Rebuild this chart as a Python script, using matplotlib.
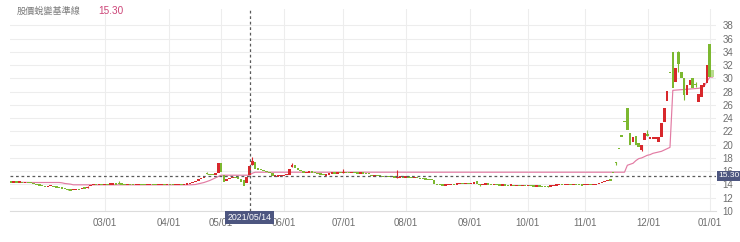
import matplotlib
matplotlib.use("Agg")
import matplotlib.pyplot as plt
from matplotlib.transforms import blended_transform_factory

# ---------------- data ----------------
opens = [
    14.40, 14.35, 14.38, 14.35, 14.35, 14.30, 14.32, 14.28, 14.20, 14.05,
    13.95, 13.85, 13.75, 13.70, 13.78, 13.75, 13.65, 13.58, 13.52, 13.45,
    13.35, 13.20, 13.18, 13.22, 13.28, 13.30, 13.50, 13.55, 13.70, 13.95,
    14.05, 14.02, 14.05, 14.00, 14.05, 14.03, 14.08, 14.10, 14.22, 14.10,
    14.05, 14.03, 14.05, 14.02, 14.00, 14.03, 14.05, 14.02, 14.00, 14.02,
    14.05, 14.03, 14.00, 14.02, 14.05, 14.03, 14.05, 14.02, 14.00, 14.03,
    14.05, 14.02, 14.05, 14.10, 14.20, 14.35, 14.60, 14.85, 14.95, 15.70,
    15.60, 15.50, 15.50, 15.70, 17.20, 15.40, 14.50, 14.90, 15.00, 15.15,
    15.05, 14.90, 14.70, 14.20, 15.40, 16.90, 17.40, 16.40, 16.30, 16.20,
    16.05, 15.85, 15.70, 15.25, 15.25, 15.35, 15.35, 15.45, 15.40, 16.60,
    16.95, 16.55, 16.25, 16.00, 15.80, 15.85, 15.95, 15.85, 15.75, 15.65,
    15.55, 15.35, 15.55, 15.70, 15.75, 15.70, 15.80, 15.75, 15.90, 15.80,
    15.75, 15.80, 15.72, 15.70, 15.75, 15.70, 15.65, 15.50, 15.20, 15.40,
    15.30, 15.25, 15.20, 15.22, 15.15, 15.18, 14.95, 15.10, 15.15, 15.10,
    15.15, 15.10, 15.05, 15.08, 15.00, 14.90, 14.85, 14.80, 14.75, 14.70,
    14.05, 14.00, 13.95, 13.90, 13.95, 14.00, 14.05, 14.02, 14.08, 14.15,
    14.10, 14.20, 14.15, 14.20, 14.50, 14.00, 13.95, 14.05, 14.10, 14.05,
    14.00, 14.02, 13.95, 13.92, 13.95, 13.90, 13.88, 13.92, 13.85, 13.88,
    13.82, 13.85, 13.80, 13.85, 13.80, 13.78, 13.80, 13.75, 13.72, 13.75,
    13.70, 13.80, 13.90, 13.95, 14.00, 13.98, 14.02, 14.05, 14.00, 14.02,
    13.98, 13.95, 13.92, 13.98, 14.02, 13.98, 14.00, 14.10, 14.25, 14.40,
    14.55, 14.70, 15.85, 17.32, 19.50, 21.35, 23.50, 25.60, 21.70, 20.45,
    21.30, 20.20, 19.20, 20.70, 21.60, 21.00, 20.80, 20.90, 20.40, 21.10,
    23.40, 26.60, 30.95, 34.00, 29.40, 34.00, 31.00, 30.00, 27.50, 29.00,
    30.00, 29.10, 26.50, 27.20, 28.75, 29.25, 35.20, 31.20,
]
closes = [
    14.35, 14.38, 14.35, 14.35, 14.30, 14.32, 14.28, 14.25, 14.05, 13.95,
    13.85, 13.75, 13.70, 13.78, 13.85, 13.65, 13.58, 13.52, 13.45, 13.35,
    13.20, 13.18, 13.22, 13.25, 13.25, 13.50, 13.45, 13.60, 13.90, 14.05,
    14.02, 14.05, 14.00, 14.05, 14.03, 14.08, 14.10, 14.05, 14.10, 14.05,
    14.03, 14.05, 14.02, 14.00, 14.03, 14.05, 14.02, 14.00, 14.02, 14.05,
    14.03, 14.00, 14.02, 14.05, 14.03, 14.05, 14.02, 14.00, 14.03, 14.05,
    14.02, 14.05, 14.10, 14.20, 14.35, 14.45, 14.80, 14.95, 15.15, 15.60,
    15.50, 15.48, 15.70, 17.20, 15.85, 14.40, 14.90, 14.95, 15.05, 15.05,
    14.95, 14.40, 13.70, 15.20, 16.80, 17.60, 16.40, 16.25, 16.20, 16.05,
    15.90, 15.70, 15.25, 15.30, 15.35, 15.40, 15.45, 15.50, 16.40, 17.00,
    16.55, 16.20, 16.00, 15.80, 15.85, 15.95, 15.85, 15.75, 15.65, 15.55,
    15.50, 15.50, 15.65, 15.75, 15.70, 15.80, 15.75, 15.90, 15.80, 15.75,
    15.80, 15.72, 15.70, 15.75, 15.70, 15.65, 15.60, 15.30, 15.40, 15.30,
    15.25, 15.20, 15.22, 15.15, 15.18, 15.10, 15.10, 15.15, 15.10, 15.15,
    15.10, 15.05, 15.08, 15.00, 14.90, 14.85, 14.80, 14.75, 14.70, 14.05,
    14.00, 13.95, 13.90, 13.95, 14.00, 14.05, 14.02, 14.08, 14.15, 14.10,
    14.20, 14.15, 14.20, 14.25, 14.00, 13.95, 14.05, 14.10, 14.05, 14.00,
    14.02, 13.95, 13.92, 13.95, 13.90, 13.88, 13.92, 13.85, 13.88, 13.82,
    13.85, 13.80, 13.85, 13.80, 13.78, 13.80, 13.75, 13.72, 13.70, 13.68,
    13.80, 13.90, 13.95, 14.00, 13.98, 14.02, 14.05, 14.00, 14.02, 13.98,
    13.95, 13.90, 13.98, 14.02, 13.98, 14.00, 14.05, 14.25, 14.40, 14.55,
    14.75, 14.65, 15.80, 17.30, 19.45, 21.30, 23.45, 22.20, 19.95, 21.20,
    19.95, 19.70, 19.95, 21.70, 21.30, 21.05, 21.10, 21.10, 21.20, 23.20,
    25.50, 28.10, 30.90, 28.50, 31.50, 32.20, 30.00, 27.50, 29.00, 29.70,
    28.50, 29.00, 27.70, 29.00, 29.25, 32.00, 30.25, 30.25,
]
# visible wicks (trading-day index -> price)
wick_high = {27: 13.75, 38: 14.45, 69: 15.85, 85: 18.10, 99: 17.30, 117: 16.30,
             136: 16.20, 224: 22.20, 235: 34.20, 241: 29.50}
wick_low = {20: 13.10, 27: 13.45, 165: 13.80, 189: 13.62, 213: 16.90,
            222: 19.00, 235: 31.00, 237: 26.80, 241: 28.70}

# 股價蛻變基準線 (baseline) vertices: trading-day index / value
baseline_day = [0, 7, 17, 18, 19, 20, 21, 22, 63, 64, 65, 66, 67, 68, 69, 70,
                71, 72, 73, 74, 84, 85, 86, 216, 217, 219, 220, 221, 222, 223,
                224, 225, 226, 227, 228, 229, 230, 231, 232, 233, 242, 243,
                244, 245, 246, 247]
baseline_val = [14.35, 14.30, 14.30, 14.25, 14.15, 14.10, 14.05, 13.95, 13.95,
                13.97, 14.00, 14.10, 14.20, 14.30, 14.45, 14.60, 14.80, 15.00,
                15.20, 15.40, 15.40, 15.70, 15.85, 15.85, 16.90, 17.20, 17.60,
                17.90, 18.00, 18.20, 18.40, 18.50, 18.70, 18.80, 18.90, 19.00,
                19.20, 19.40, 19.60, 28.20, 28.50, 28.60, 28.80, 29.50, 30.20,
                30.20]

month_labels = ["03/01", "04/01", "05/01", "06/01", "07/01", "08/01",
                "09/01", "10/01", "11/01", "12/01", "01/01"]
month_pos = [33, 55.5, 74, 96, 117, 139, 161.5, 182, 202, 224.3, 246]
y_ticks = [10, 12, 14, 16, 18, 20, 22, 24, 26, 28, 30, 32, 34, 36, 38]

baseline_now = 15.30
cursor_day = 84
cursor_label = "2021/05/14"
legend_name = "股價蛻變基準線"

# ---------------- styling ----------------
UP = "#d8282c"
DOWN = "#7cb830"
LAST = "#b9dc8e"
PINK = "#e27ba3"
GRID = "#ededed"
TXT = "#6f6f6f"
BOX = "#4d5680"
NUM = ["Liberation Sans", "DejaVu Sans"]
CJK = ["Noto Sans CJK TC", "DejaVu Sans"]

fig = plt.figure(figsize=(7.4, 2.42), dpi=100)
fig.patch.set_facecolor("white")
ax = fig.add_axes([10 / 740, 31 / 242, 706 / 740, 202.2 / 242])
ax.set_facecolor("white")

ax.plot(baseline_day, baseline_val, color=PINK, lw=0.85, zorder=2)

n = len(opens)
xs = list(range(n))
for i in xs:
    o, c = opens[i], closes[i]
    col = UP if c >= o else DOWN
    if i == n - 1:
        col = LAST
    lo_b, hi_b = min(o, c), max(o, c)
    hi = wick_high.get(i, hi_b)
    lo = wick_low.get(i, lo_b)
    if hi > hi_b or lo < lo_b:
        ax.vlines(i, lo, hi, color=col, lw=0.8, zorder=3)
    h = max(hi_b - lo_b, 0.2)
    ax.bar(i, h, bottom=(lo_b + hi_b) / 2 - h / 2, width=0.9, color=col,
           linewidth=0, zorder=4)

# reference lines
ax.axhline(baseline_now, color="#5a5a5a", lw=0.9, ls=(0, (2.2, 2.2)), zorder=6)
ax.axvline(cursor_day, color="#5a5a5a", lw=0.9, ls=(0, (2.2, 2.2)), zorder=6)

ax.set_xlim(-0.3, 248.2)
ax.set_ylim(10, 40.5)
ax.set_xticks(month_pos)
ax.set_xticklabels(month_labels, family=NUM, fontsize=7, color=TXT)
ax.set_yticks(y_ticks)
ax.set_yticklabels([str(v) for v in y_ticks], family=NUM, fontsize=7, color=TXT)
ax.yaxis.tick_right()
ax.tick_params(axis="y", length=0, pad=4.5)
ax.tick_params(axis="x", length=0, pad=5)
ax.grid(True, color=GRID, lw=0.8, zorder=0)
ax.set_axisbelow(True)
for s in ["top", "left", "right"]:
    ax.spines[s].set_visible(False)
ax.spines["bottom"].set_color("#dcdcdc")
ax.spines["bottom"].set_linewidth(0.8)

# cursor label under x axis
tr = blended_transform_factory(ax.transData, ax.transAxes)
ax.text(cursor_day, -0.032, cursor_label, transform=tr, ha="center",
        va="center", fontsize=6.3, color="white", family=NUM, zorder=10,
        clip_on=False,
        bbox=dict(boxstyle="square,pad=0.25", fc=BOX, ec="none"))

# baseline value label on right axis
tr2 = blended_transform_factory(ax.transAxes, ax.transData)
ax.text(1.0035, baseline_now, f"{baseline_now:.2f}", transform=tr2,
        ha="left", va="center", fontsize=6.0, color="white", family=NUM,
        zorder=10, clip_on=False,
        bbox=dict(boxstyle="square,pad=0.15", fc=BOX, ec="none"))

# legend header
fig.text(17 / 740, 1 - 11 / 242, legend_name, ha="left", va="center",
         fontsize=6.6, color="#7a7a7a", family=CJK)
fig.text(98 / 740, 1 - 11 / 242, f"{baseline_now:.2f}", ha="left",
         va="center", fontsize=7.2, color="#cc4477", family=NUM)

fig.savefig("out.png", dpi=100, facecolor="white")
